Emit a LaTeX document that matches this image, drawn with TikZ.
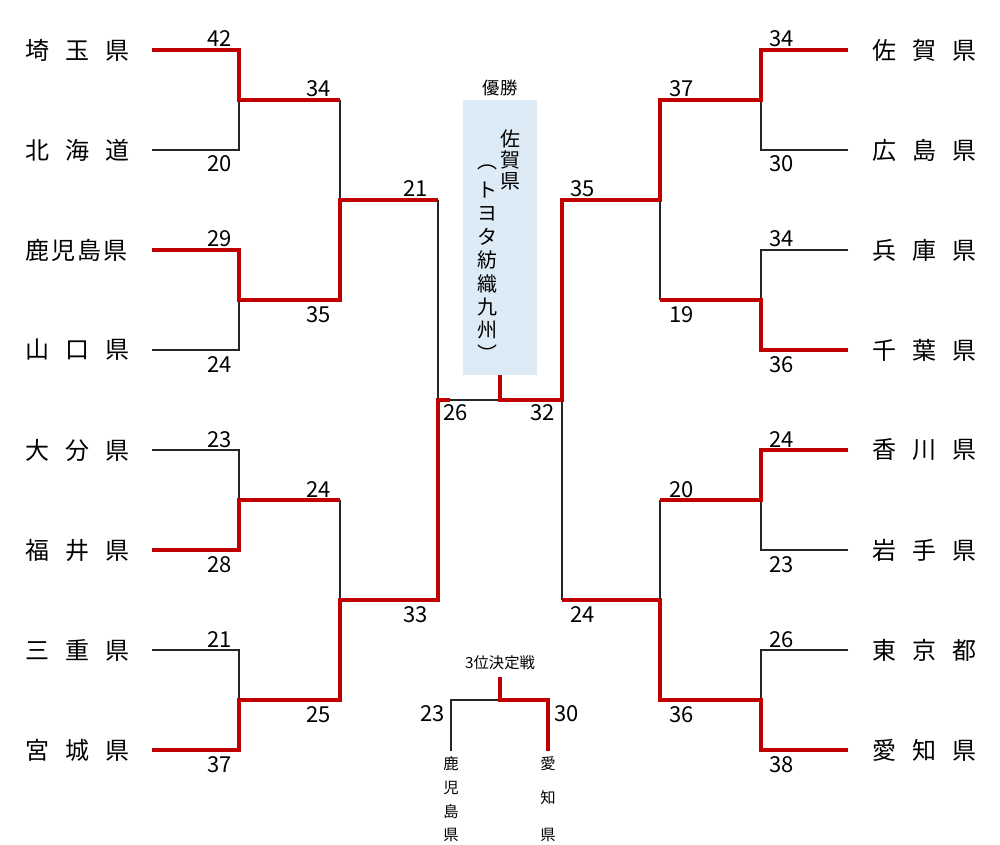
\documentclass[tikz,border=0pt]{standalone}
\usepackage{fontspec}
\setmainfont{Noto Sans CJK JP}
\definecolor{winred}{HTML}{C00000}
\definecolor{boxblue}{HTML}{DDEBF7}
\begin{document}
\begin{tikzpicture}[x=0.75pt,y=-0.75pt,
  loser/.style={draw=black!85,line width=1pt},
  winner/.style={draw=winred,line width=3pt,line join=miter},
  team/.style={font=\fontsize{18}{18}\selectfont,inner sep=0pt},
  score/.style={font=\fontsize{16.5}{16.5}\selectfont,inner sep=0pt},
  boxtxt/.style={font=\fontsize{15}{15}\selectfont,inner sep=0pt},
  smalltxt/.style={font=\fontsize{11.5}{11.5}\selectfont,inner sep=0pt},
  vtxt/.style={font=\fontsize{11.5}{11.5}\selectfont,inner sep=0pt}]
\path[fill=white] (0,0) rectangle (1000,845);

% ---------- coordinates ----------
\foreach \i in {1,...,8}{
  \coordinate (La\i) at (152,{50+100*(\i-1)});
  \coordinate (Lb\i) at (239,{50+100*(\i-1)});
  \coordinate (Ra\i) at (848,{50+100*(\i-1)});
  \coordinate (Rb\i) at (761,{50+100*(\i-1)});
}
\foreach \j in {1,...,4}{
  \coordinate (Lc\j) at (239,{100+200*(\j-1)});
  \coordinate (Ld\j) at (340,{100+200*(\j-1)});
  \coordinate (Rc\j) at (761,{100+200*(\j-1)});
  \coordinate (Rd\j) at (660,{100+200*(\j-1)});
}
\foreach \k in {1,2}{
  \coordinate (Le\k) at (340,{200+400*(\k-1)});
  \coordinate (Lf\k) at (438,{200+400*(\k-1)});
  \coordinate (Re\k) at (660,{200+400*(\k-1)});
  \coordinate (Rf\k) at (562,{200+400*(\k-1)});
}
\coordinate (LF) at (438,400);
\coordinate (LT) at (450,400);
\coordinate (RF) at (562,400);
\coordinate (C) at (500,400);

% ---------- champion box ----------
\node (champ) [fill=boxblue,minimum width=55.5pt,minimum height=206.25pt,inner sep=0pt] at (500,237.5) {};
\node[smalltxt,font=\fontsize{13}{13}\selectfont] (yusho) at (500,88) {優勝};
\foreach \c [count=\i] in {佐,賀,県}
  \node[boxtxt] (w\i) at (510,{117+21.5*\i}) {\c};
\foreach \c [count=\i] in {︵,ト,ヨ,タ,紡,織,九,州,︶}
  \node[boxtxt] (o\i) at (487,{143.7+23.3*\i}) {\c};

% ---------- team names ----------
\def\gapA{\hspace{12pt}}
\def\gapB{\hspace{1.5pt}}
\node[team,anchor=west] (t1) at (25,50)  {埼\gapA 玉\gapA 県};
\node[team,anchor=west] (t2) at (25,150) {北\gapA 海\gapA 道};
\node[team,anchor=west] (t3) at (25,250) {鹿\gapB 児\gapB 島\gapB 県};
\node[team,anchor=west] (t4) at (25,350) {山\gapA 口\gapA 県};
\node[team,anchor=west] (t5) at (25,450) {大\gapA 分\gapA 県};
\node[team,anchor=west] (t6) at (25,550) {福\gapA 井\gapA 県};
\node[team,anchor=west] (t7) at (25,650) {三\gapA 重\gapA 県};
\node[team,anchor=west] (t8) at (25,750) {宮\gapA 城\gapA 県};
\node[team,anchor=west] (s1) at (872,50)  {佐\gapA 賀\gapA 県};
\node[team,anchor=west] (s2) at (872,150) {広\gapA 島\gapA 県};
\node[team,anchor=west] (s3) at (872,250) {兵\gapA 庫\gapA 県};
\node[team,anchor=west] (s4) at (872,350) {千\gapA 葉\gapA 県};
\node[team,anchor=west] (s5) at (872,450) {香\gapA 川\gapA 県};
\node[team,anchor=west] (s6) at (872,550) {岩\gapA 手\gapA 県};
\node[team,anchor=west] (s7) at (872,650) {東\gapA 京\gapA 都};
\node[team,anchor=west] (s8) at (872,750) {愛\gapA 知\gapA 県};

% ---------- losing lines ----------
\draw[loser] (La2)--(Lb2)--(Lc1);
\draw[loser] (La4)--(Lb4)--(Lc2);
\draw[loser] (La5)--(Lb5)--(Lc3);
\draw[loser] (La7)--(Lb7)--(Lc4);
\draw[loser] (Ld1)--(Le1);
\draw[loser] (Ld3)--(Le2);
\draw[loser] (Lf1)--(LF)--(C);
\draw[loser] (Ra2)--(Rb2)--(Rc1);
\draw[loser] (Ra3)--(Rb3)--(Rc2);
\draw[loser] (Ra6)--(Rb6)--(Rc3);
\draw[loser] (Ra7)--(Rb7)--(Rc4);
\draw[loser] (Rd2)--(Re1);
\draw[loser] (Rd3)--(Re2);
\draw[loser] (Rf2)--(RF);

% ---------- winning lines ----------
\draw[winner] (La1)--(Lb1)--(Lc1)--(Ld1);
\draw[winner] (La3)--(Lb3)--(Lc2)--(Ld2)--(Le1)--(Lf1);
\draw[winner] (La6)--(Lb6)--(Lc3)--(Ld3);
\draw[winner] (La8)--(Lb8)--(Lc4)--(Ld4)--(Le2)--(Lf2)--(LF)--(LT);
\draw[winner] (champ.south)--(C)--(RF)--(Rf1)--(Re1)--(Rd1)--(Rc1)--(Rb1)--(Ra1);
\draw[winner] (Ra4)--(Rb4)--(Rc2)--(Rd2);
\draw[winner] (Ra5)--(Rb5)--(Rc3)--(Rd3);
\draw[winner] (Ra8)--(Rb8)--(Rc4)--(Rd4)--(Re2)--(Rf2);

% ---------- scores left ----------
\node[score,anchor=base east] (n1) at (232,47)  {42};
\node[score,anchor=base east] (n2) at (232,172) {20};
\node[score,anchor=base east] (n3) at (232,247) {29};
\node[score,anchor=base east] (n4) at (232,372) {24};
\node[score,anchor=base east] (n5) at (232,447) {23};
\node[score,anchor=base east] (n6) at (232,572) {28};
\node[score,anchor=base east] (n7) at (232,647) {21};
\node[score,anchor=base east] (n8) at (232,772) {37};
\node[score,anchor=base east] (n9) at (331,97)  {34};
\node[score,anchor=base east] (n10) at (331,322) {35};
\node[score,anchor=base east] (n11) at (331,497) {24};
\node[score,anchor=base east] (n12) at (331,722) {25};
\node[score,anchor=base east] (n13) at (428,197) {21};
\node[score,anchor=base east] (n14) at (428,622) {33};
\node[score,anchor=base west] (n15) at (443,420) {26};
% ---------- scores right ----------
\node[score,anchor=base west] (m1) at (769,47)  {34};
\node[score,anchor=base west] (m2) at (769,172) {30};
\node[score,anchor=base west] (m3) at (769,247) {34};
\node[score,anchor=base west] (m4) at (769,372) {36};
\node[score,anchor=base west] (m5) at (769,447) {24};
\node[score,anchor=base west] (m6) at (769,572) {23};
\node[score,anchor=base west] (m7) at (769,647) {26};
\node[score,anchor=base west] (m8) at (769,772) {38};
\node[score,anchor=base west] (m9) at (669,97)  {37};
\node[score,anchor=base west] (m10) at (669,322) {19};
\node[score,anchor=base west] (m11) at (669,497) {20};
\node[score,anchor=base west] (m12) at (669,722) {36};
\node[score,anchor=base west] (m13) at (570,197) {35};
\node[score,anchor=base west] (m14) at (570,622) {24};
\node[score,anchor=base east] (m15) at (555,420) {32};

% ---------- third place ----------
\node[smalltxt] (third) at (500,663) {3位決定戦};
\coordinate (T0) at (500,677);
\coordinate (TC) at (500,700);
\coordinate (TL) at (451,700);
\coordinate (TLb) at (451,751);
\coordinate (TR) at (548,700);
\coordinate (TRb) at (548,751);
\draw[loser] (TC)--(TL)--(TLb);
\draw[winner] (T0)--(TC)--(TR)--(TRb);
\node[score,anchor=base east] (q1) at (445,721) {23};
\node[score,anchor=base west] (q2) at (554,721) {30};
\foreach \c/\y [count=\i] in {鹿/764,児/788,島/812,県/835}
  \node[vtxt] (k\i) at (451,\y) {\c};
\foreach \c/\y [count=\i] in {愛/764,知/798,県/835}
  \node[vtxt] (a\i) at (548,\y) {\c};
\end{tikzpicture}
\end{document}
